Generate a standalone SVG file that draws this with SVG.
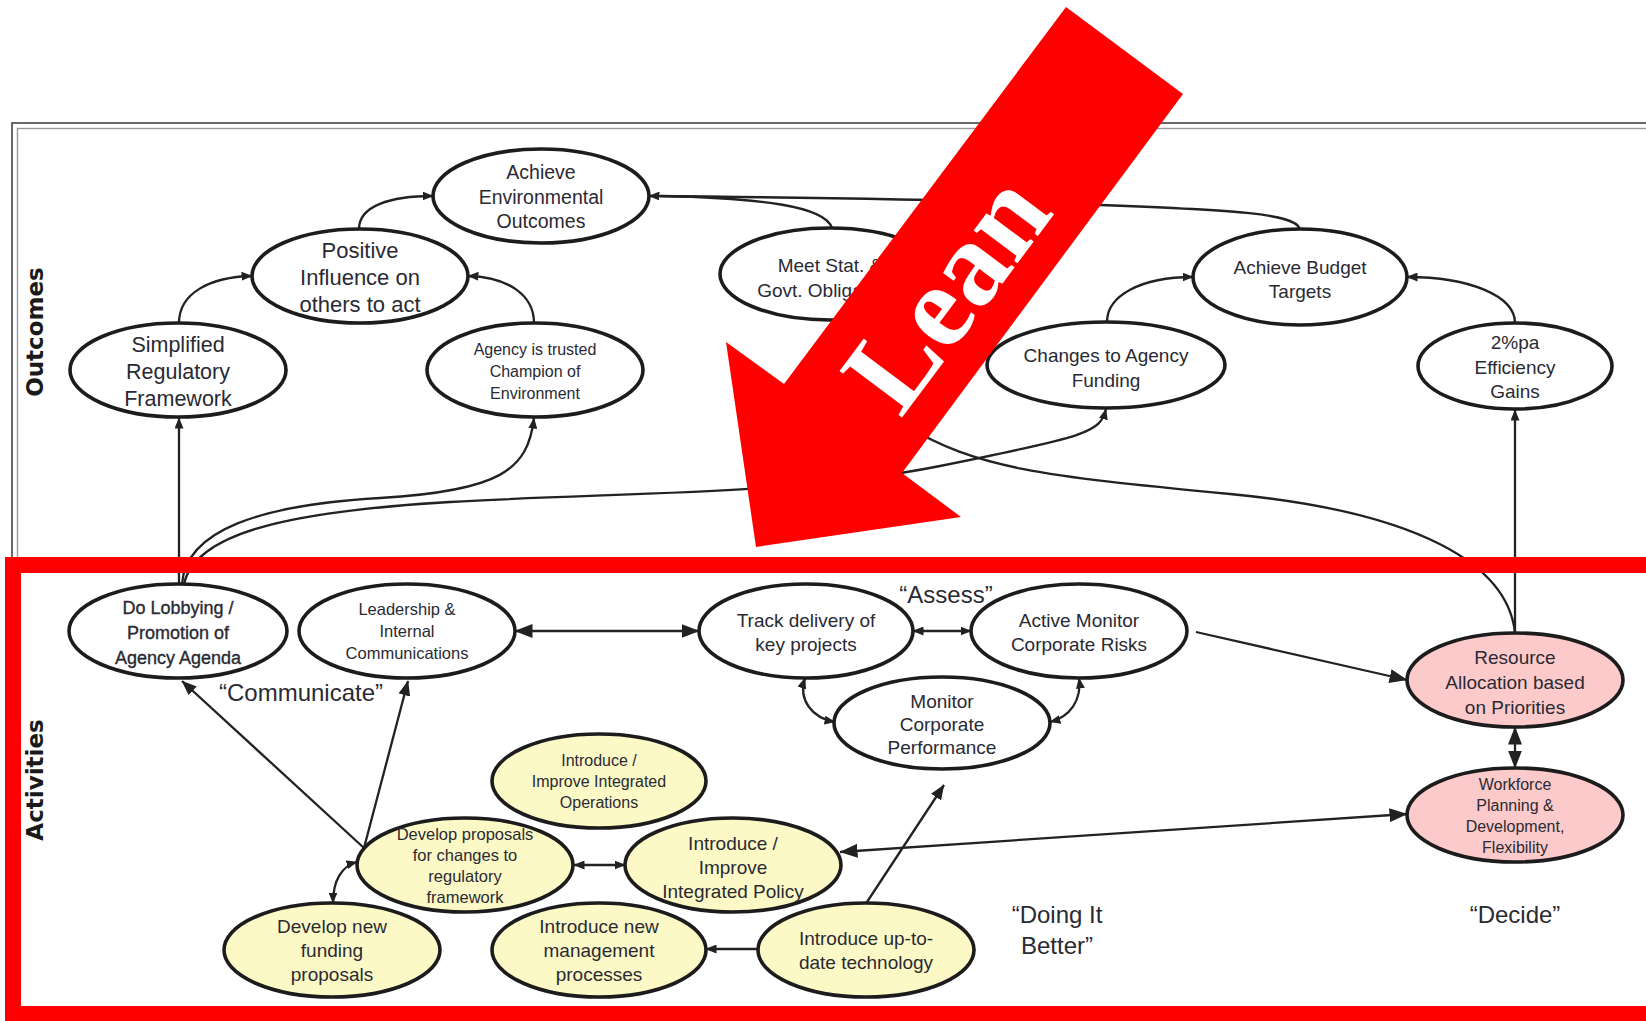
<svg xmlns="http://www.w3.org/2000/svg" width="1646" height="1021" viewBox="0 0 1646 1021">
<defs>
<style>
.node ellipse{stroke:#1c1c1c;stroke-width:3.6;fill:#fff}
.node.y ellipse{fill:#fcf9c6}
.node.p ellipse{fill:#fccaca}
.node text{font-family:"Liberation Sans",Arial,sans-serif;fill:#2a2a33;text-anchor:middle}
.conn path{fill:none;stroke:#222;stroke-width:2.3}
.lbl{font-family:"Liberation Sans",Arial,sans-serif;fill:#2a2a33;text-anchor:middle;font-size:24px}
.side{font-family:"DejaVu Sans",sans-serif;font-weight:bold;font-size:23px;fill:#1a1a1a;text-anchor:middle}
.lean{font-family:"Liberation Serif","Times New Roman",serif;font-weight:bold;font-size:119px;fill:#fff;text-anchor:middle}
</style>
<marker id="hs" viewBox="0 0 11 9" refX="10.5" refY="4.5" markerWidth="11" markerHeight="9" markerUnits="userSpaceOnUse" orient="auto-start-reverse"><path d="M0,0 L11,4.5 L0,9 z" fill="#222"/></marker>
<marker id="hm" viewBox="0 0 15 12" refX="14.5" refY="6" markerWidth="15" markerHeight="12" markerUnits="userSpaceOnUse" orient="auto-start-reverse"><path d="M0,0 L15,6 L0,12 z" fill="#222"/></marker>
<marker id="hl" viewBox="0 0 18 14" refX="17.5" refY="7" markerWidth="18" markerHeight="14" markerUnits="userSpaceOnUse" orient="auto-start-reverse"><path d="M0,0 L18,7 L0,14 z" fill="#222"/></marker>
</defs>

<rect width="1646" height="1021" fill="#fff"/>

<!-- double grey frame of the whole chart -->
<rect x="12" y="123" width="1700" height="891" fill="none" stroke="#444" stroke-width="1.6"/>
<rect x="17.5" y="128.5" width="1700" height="880" fill="none" stroke="#999" stroke-width="1.4"/>

<text class="side" transform="translate(43,332) rotate(-90)">Outcomes</text>
<text class="side" transform="translate(43,780) rotate(-90)">Activities</text>

<!-- connectors -->
<g id="connectors" class="conn">
  <path d="M179,584 L179,418" marker-end="url(#hs)"/>
  <path d="M182,584 C186,530 260,505 380,498 S528,470 534,418" marker-end="url(#hs)"/>
  <path d="M184,584 C195,535 280,512 450,502 S790,496 940,466 S1100,432 1106,409" marker-end="url(#hs)"/>
  <path d="M179,323 C179,293 210,277 252,276" marker-end="url(#hs)"/>
  <path d="M359,229 C359,206 390,196 433,196" marker-end="url(#hs)"/>
  <path d="M534,323 C534,295 508,277 468,276" marker-end="url(#hs)"/>
  <path d="M1300,229 C1295,213 1230,210 1100,205 S760,197 649,196" marker-end="url(#hs)"/>
  <path d="M832,228 C825,206 760,198 660,196"/>
  <path d="M1107,322 C1107,296 1140,277 1193,277" marker-end="url(#hs)"/>
  <path d="M1515,323 C1515,296 1470,277 1407,277" marker-end="url(#hs)"/>
  <path d="M1515,633 L1515,410" marker-end="url(#hs)"/>
  <path d="M1515,633 C1508,565 1420,512 1230,494 S975,468 905,425 S872,345 870,320" marker-end="url(#hs)"/>
  <path d="M515,631 L699,631" marker-start="url(#hl)" marker-end="url(#hl)"/>
  <path d="M913,631 L971,631" marker-start="url(#hs)" marker-end="url(#hs)"/>
  <path d="M805,678 C798,700 812,718 835,722" marker-start="url(#hs)" marker-end="url(#hs)"/>
  <path d="M1079,678 C1082,700 1070,717 1050,722" marker-start="url(#hs)" marker-end="url(#hs)"/>
  <path d="M1196,632 L1407,680" marker-end="url(#hl)"/>
  <path d="M1515,727 L1515,768" marker-start="url(#hl)" marker-end="url(#hl)"/>
  <path d="M840,852 L1407,814" marker-start="url(#hl)" marker-end="url(#hl)"/>
  <path d="M867,902 L944,785" marker-end="url(#hm)"/>
  <path d="M758,949 L706,949" marker-end="url(#hs)"/>
  <path d="M574,865 L625,865" marker-start="url(#hs)" marker-end="url(#hs)"/>
  <path d="M357,862 C342,866 333,880 333,903" marker-start="url(#hs)" marker-end="url(#hs)"/>
  <path d="M364,848 L182,681" marker-end="url(#hm)"/>
  <path d="M364,848 L408,681" marker-end="url(#hm)"/>
</g>

<!-- outcome nodes -->
<g id="achieve-env" class="node"><ellipse cx="541" cy="196" rx="108" ry="47"/>
<text font-size="19.5"><tspan x="541" y="179">Achieve</tspan><tspan x="541" y="204">Environmental</tspan><tspan x="541" y="228">Outcomes</tspan></text></g>
<g id="positive-influence" class="node"><ellipse cx="360" cy="276" rx="108" ry="47"/>
<text font-size="22"><tspan x="360" y="258">Positive</tspan><tspan x="360" y="285">Influence on</tspan><tspan x="360" y="312">others to act</tspan></text></g>
<g id="simplified" class="node"><ellipse cx="178" cy="370" rx="108" ry="47"/>
<text font-size="21.5"><tspan x="178" y="352">Simplified</tspan><tspan x="178" y="379">Regulatory</tspan><tspan x="178" y="406">Framework</tspan></text></g>
<g id="agency-trusted" class="node"><ellipse cx="535" cy="370" rx="108" ry="47"/>
<text font-size="16"><tspan x="535" y="355">Agency is trusted</tspan><tspan x="535" y="377">Champion of</tspan><tspan x="535" y="399">Environment</tspan></text></g>
<g id="meet-stat" class="node"><ellipse cx="830" cy="274" rx="110" ry="46"/>
<text font-size="19"><tspan x="830" y="272">Meet Stat. &amp;</tspan><tspan x="830" y="297">Govt. Obligations</tspan></text></g>
<g id="budget" class="node"><ellipse cx="1300" cy="277" rx="107" ry="48"/>
<text font-size="19"><tspan x="1300" y="274">Achieve Budget</tspan><tspan x="1300" y="298">Targets</tspan></text></g>
<g id="funding-changes" class="node"><ellipse cx="1106" cy="365" rx="119" ry="43"/>
<text font-size="19"><tspan x="1106" y="362">Changes to Agency</tspan><tspan x="1106" y="387">Funding</tspan></text></g>
<g id="efficiency" class="node"><ellipse cx="1515" cy="366" rx="97" ry="43"/>
<text font-size="19"><tspan x="1515" y="349">2%pa</tspan><tspan x="1515" y="374">Efficiency</tspan><tspan x="1515" y="398">Gains</tspan></text></g>

<!-- activity nodes -->
<g id="lobbying" class="node"><ellipse cx="178" cy="631" rx="109" ry="47"/>
<text font-size="18" stroke="#2a2a33" stroke-width="0.35"><tspan x="178" y="614">Do Lobbying /</tspan><tspan x="178" y="639">Promotion of</tspan><tspan x="178" y="664">Agency Agenda</tspan></text></g>
<g id="leadership" class="node"><ellipse cx="407" cy="631" rx="108" ry="47"/>
<text font-size="16.5"><tspan x="407" y="615">Leadership &amp;</tspan><tspan x="407" y="637">Internal</tspan><tspan x="407" y="659">Communications</tspan></text></g>
<g id="track" class="node"><ellipse cx="806" cy="631" rx="107" ry="47"/>
<text font-size="19"><tspan x="806" y="627">Track delivery of</tspan><tspan x="806" y="651">key projects</tspan></text></g>
<g id="risks" class="node"><ellipse cx="1079" cy="631" rx="108" ry="47"/>
<text font-size="19"><tspan x="1079" y="627">Active Monitor</tspan><tspan x="1079" y="651">Corporate Risks</tspan></text></g>
<g id="performance" class="node"><ellipse cx="942" cy="723" rx="108" ry="46"/>
<text font-size="19"><tspan x="942" y="708">Monitor</tspan><tspan x="942" y="731">Corporate</tspan><tspan x="942" y="754">Performance</tspan></text></g>
<g id="resource" class="node p"><ellipse cx="1515" cy="680" rx="108" ry="47"/>
<text font-size="19"><tspan x="1515" y="664">Resource</tspan><tspan x="1515" y="689">Allocation based</tspan><tspan x="1515" y="714">on Priorities</tspan></text></g>
<g id="workforce" class="node p"><ellipse cx="1515" cy="815" rx="108" ry="47"/>
<text font-size="16"><tspan x="1515" y="790">Workforce</tspan><tspan x="1515" y="811">Planning &amp;</tspan><tspan x="1515" y="832">Development,</tspan><tspan x="1515" y="853">Flexibility</tspan></text></g>
<g id="integrated-ops" class="node y"><ellipse cx="599" cy="781" rx="107" ry="47"/>
<text font-size="16"><tspan x="599" y="766">Introduce /</tspan><tspan x="599" y="787">Improve Integrated</tspan><tspan x="599" y="808">Operations</tspan></text></g>
<g id="reg-proposals" class="node y"><ellipse cx="465" cy="865" rx="108" ry="47"/>
<text font-size="16.5"><tspan x="465" y="840">Develop proposals</tspan><tspan x="465" y="861">for changes to</tspan><tspan x="465" y="882">regulatory</tspan><tspan x="465" y="903">framework</tspan></text></g>
<g id="integrated-policy" class="node y"><ellipse cx="733" cy="865" rx="108" ry="47"/>
<text font-size="19"><tspan x="733" y="850">Introduce /</tspan><tspan x="733" y="874">Improve</tspan><tspan x="733" y="898">Integrated Policy</tspan></text></g>
<g id="funding-proposals" class="node y"><ellipse cx="332" cy="950" rx="108" ry="47"/>
<text font-size="19"><tspan x="332" y="933">Develop new</tspan><tspan x="332" y="957">funding</tspan><tspan x="332" y="981">proposals</tspan></text></g>
<g id="mgmt-processes" class="node y"><ellipse cx="599" cy="950" rx="107" ry="47"/>
<text font-size="19"><tspan x="599" y="933">Introduce new</tspan><tspan x="599" y="957">management</tspan><tspan x="599" y="981">processes</tspan></text></g>
<g id="technology" class="node y"><ellipse cx="866" cy="950" rx="108" ry="47"/>
<text font-size="19"><tspan x="866" y="945">Introduce up-to-</tspan><tspan x="866" y="969">date technology</tspan></text></g>

<!-- group labels -->
<text class="lbl" x="301" y="701">“Communicate”</text>
<text class="lbl" x="946" y="603">“Assess”</text>
<text class="lbl"><tspan x="1057" y="923">“Doing It</tspan><tspan x="1057" y="954">Better”</tspan></text>
<text class="lbl" x="1515" y="923">“Decide”</text>

<!-- red frame round the activities -->
<rect x="13" y="565" width="1700" height="449" fill="none" stroke="#ff0000" stroke-width="16"/>

<!-- Lean arrow -->
<g id="lean-arrow">
  <polygon points="1066,7 1183,94 902,473 961,517 756,547 726,342 784,384" fill="#ff0000"/>
  <text class="lean" transform="translate(978,316) rotate(-53.2)">Lean</text>
</g>
</svg>
